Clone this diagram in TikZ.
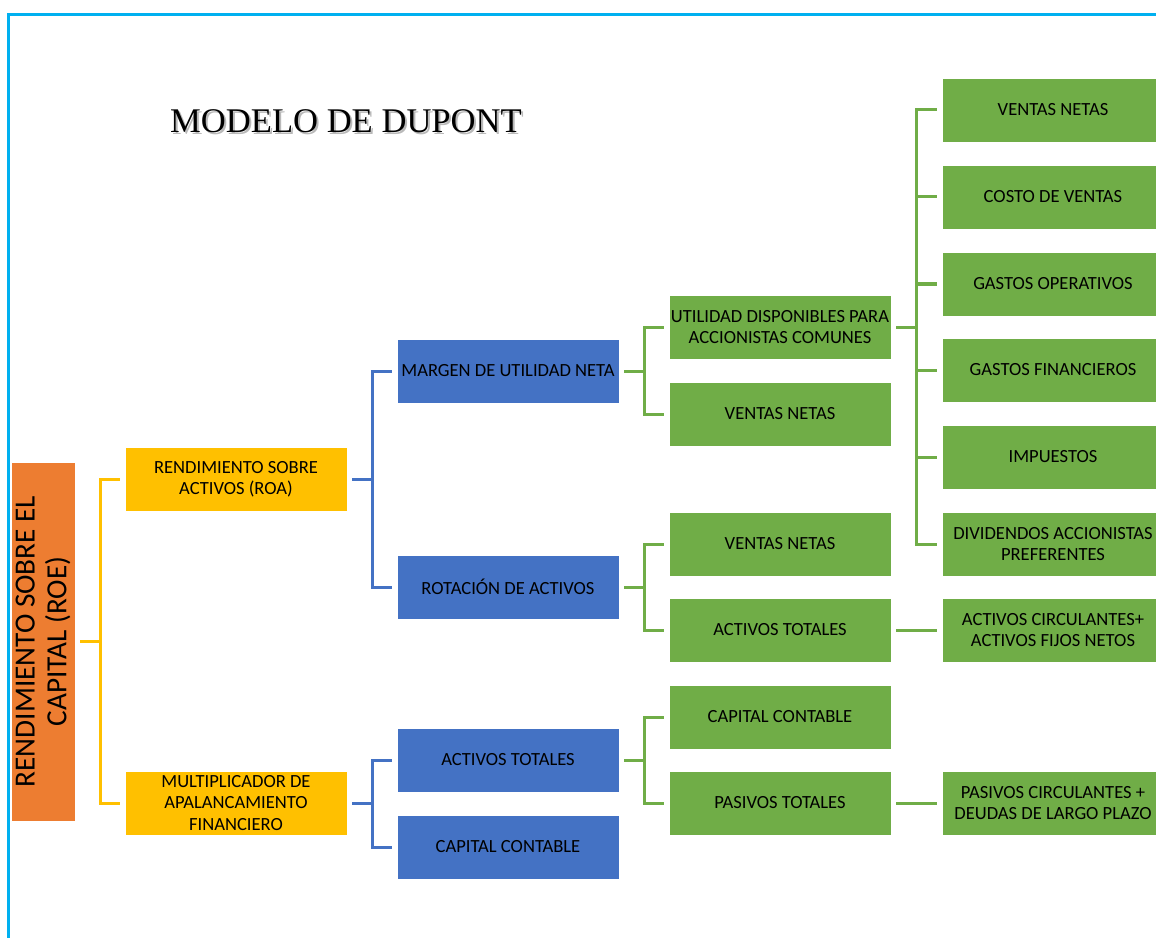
\documentclass[tikz,border=0pt]{standalone}
\usepackage{fontspec}
\setmainfont{Carlito}
\newfontfamily\titlefont{Liberation Serif}

\definecolor{roeorange}{RGB}{237,125,49}
\definecolor{roayellow}{RGB}{255,192,0}
\definecolor{midblue}{RGB}{68,114,196}
\definecolor{leafgreen}{RGB}{112,173,71}
\definecolor{framecyan}{RGB}{0,176,240}

\tikzset{
	modbox/.style = {minimum width = 5.55cm, minimum height = 1.6cm, inner sep = 0pt,
		outer sep = .125cm, align = center, draw = white, line width = .4pt,
		font = \fontsize{13.2}{15.2}\selectfont},
	roebox/.style = {modbox, fill = roeorange, minimum width = 8.975cm,
		font = \fontsize{20.8}{22.5}\selectfont},
	amarillobox/.style = {modbox, fill = roayellow},
	azulbox/.style = {modbox, fill = midblue},
	verdebox/.style = {modbox, fill = leafgreen},
	lineyellow/.style = {line width = .075cm, roayellow},
	lineblue/.style = {line width = .075cm, midblue},
	linegreen/.style = {line width = .075cm, leafgreen}
}

\begin{document}
\begin{tikzpicture}[x = .025cm, y = -.025cm]
	\useasboundingbox (0, 0) rectangle (1156, 938);
	
	% marco
	\draw [framecyan, line width = .09cm] (8.5, 945) -- (8.5, 14.5) -- (1165, 14.5);
	
	% titulo
	\node [font = \titlefont\fontsize{24.6}{28}\selectfont, text = gray!55] (titlesh) at (348, 123.5) {MODELO DE DUPONT};
	\node [font = \titlefont\fontsize{24.6}{28}\selectfont] (title) at (346, 121.5) {MODELO DE DUPONT};
	
	% primera columna
	\node [roebox, rotate = 90] (roe) at (43, 641.5) {RENDIMIENTO SOBRE EL\\CAPITAL (ROE)};
	
	% segunda columna
	\node [amarillobox] (roa) at (236, 479) {RENDIMIENTO SOBRE\\ACTIVOS (ROA)};
	\node [amarillobox] (mult) at (236, 803) {MULTIPLICADOR DE\\APALANCAMIENTO\\FINANCIERO};
	
	% tercera columna
	\node [azulbox] (margen) at (508, 371) {MARGEN DE UTILIDAD NETA};
	\node [azulbox] (rotac) at (508, 587) {ROTACIÓN DE ACTIVOS};
	\node [azulbox] (actot) at (508, 760) {ACTIVOS TOTALES};
	\node [azulbox] (capcon) at (508, 847) {CAPITAL CONTABLE};
	
	% cuarta columna
	\node [verdebox] (util) at (780, 327) {UTILIDAD DISPONIBLES PARA\\ACCIONISTAS COMUNES};
	\node [verdebox] (vnetas) at (780, 414) {VENTAS NETAS};
	\node [verdebox] (vnetasb) at (780, 544) {VENTAS NETAS};
	\node [verdebox] (actotb) at (780, 630) {ACTIVOS TOTALES};
	\node [verdebox] (capconb) at (780, 717) {CAPITAL CONTABLE};
	\node [verdebox] (pastot) at (780, 803) {PASIVOS TOTALES};
	
	% quinta columna
	\node [verdebox] (vn) at (1053, 110) {VENTAS NETAS};
	\node [verdebox] (costo) at (1053, 197) {COSTO DE VENTAS};
	\node [verdebox] (gop) at (1053, 284) {GASTOS OPERATIVOS};
	\node [verdebox] (gfin) at (1053, 370) {GASTOS FINANCIEROS};
	\node [verdebox] (imp) at (1053, 457) {IMPUESTOS};
	\node [verdebox] (divi) at (1053, 544) {DIVIDENDOS ACCIONISTAS\\PREFERENTES};
	\node [verdebox] (acirc) at (1053, 630) {ACTIVOS CIRCULANTES+\\ACTIVOS FIJOS NETOS};
	\node [verdebox] (pcirc) at (1053, 803) {PASIVOS CIRCULANTES +\\DEUDAS DE LARGO PLAZO};
	
	% lines
	\draw [lineyellow] (roe.south) -- ++(20, 0) |- (roa.west);
	\draw [lineyellow] (roe.south) -- ++(20, 0) |- (mult.west);
	
	\draw [lineblue] (roa.east) -- ++(20, 0) |- (margen.west);
	\draw [lineblue] (roa.east) -- ++(20, 0) |- (rotac.west);
	\draw [lineblue] (mult.east) -- ++(20, 0) |- (actot.west);
	\draw [lineblue] (mult.east) -- ++(20, 0) |- (capcon.west);
	
	\draw [linegreen] (margen.east) -- ++(20, 0) |- (util.west);
	\draw [linegreen] (margen.east) -- ++(20, 0) |- (vnetas.west);
	\draw [linegreen] (rotac.east) -- ++(20, 0) |- (vnetasb.west);
	\draw [linegreen] (rotac.east) -- ++(20, 0) |- (actotb.west);
	\draw [linegreen] (actot.east) -- ++(20, 0) |- (capconb.west);
	\draw [linegreen] (actot.east) -- ++(20, 0) |- (pastot.west);
	
	\draw [linegreen] (util.east) -- ++(20, 0) |- (vn.west);
	\draw [linegreen] (util.east) -- ++(20, 0) |- (costo.west);
	\draw [linegreen] (util.east) -- ++(20, 0) |- (gop.west);
	\draw [linegreen] (util.east) -- ++(20, 0) |- (gfin.west);
	\draw [linegreen] (util.east) -- ++(20, 0) |- (imp.west);
	\draw [linegreen] (util.east) -- ++(20, 0) |- (divi.west);
	
	\draw [linegreen] (actotb.east) -- (acirc.west);
	\draw [linegreen] (pastot.east) -- (pcirc.west);
\end{tikzpicture}
\end{document}
